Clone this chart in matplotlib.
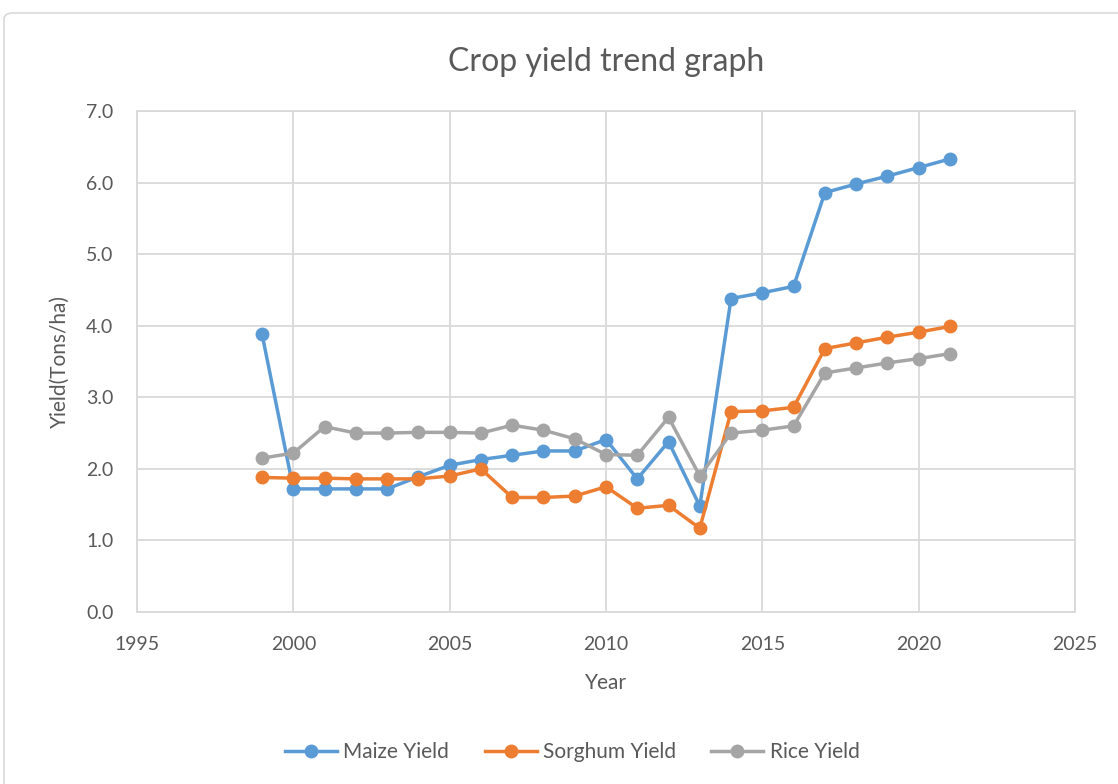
import numpy as np
import matplotlib.pyplot as plt
from matplotlib.patches import FancyBboxPatch

plt.rcParams['font.family'] = ['Lato', 'DejaVu Sans']

years = list(range(1999, 2022))
maize = [3.88, 1.72, 1.72, 1.72, 1.72, 1.89, 2.05, 2.13, 2.19, 2.25, 2.25, 2.41,
         1.86, 2.38, 1.48, 4.38, 4.46, 4.55, 5.86, 5.98, 6.09, 6.21, 6.33]
sorghum = [1.88, 1.87, 1.87, 1.86, 1.86, 1.86, 1.90, 2.00, 1.60, 1.60, 1.62, 1.75,
           1.45, 1.49, 1.17, 2.80, 2.81, 2.86, 3.68, 3.76, 3.84, 3.91, 3.99]
rice = [2.15, 2.22, 2.59, 2.50, 2.50, 2.51, 2.51, 2.50, 2.61, 2.54, 2.42, 2.20,
        2.19, 2.72, 1.90, 2.50, 2.54, 2.60, 3.34, 3.41, 3.48, 3.54, 3.61]

series = [('Maize Yield', maize, '#5B9BD5'),
          ('Sorghum Yield', sorghum, '#ED7D31'),
          ('Rice Yield', rice, '#A5A5A5')]

fig = plt.figure(figsize=(11.18, 7.84), dpi=100)
ax = fig.add_axes([137 / 1118, 1 - 612 / 784, (1075 - 137) / 1118, (612 - 111) / 784])

# chart border like the spreadsheet chart area
border = FancyBboxPatch((4 / 1118, -0.05), 1.1, 1 - 13 / 784 + 0.05,
                        boxstyle='round,pad=0,rounding_size=0.008',
                        transform=fig.transFigure, fill=False,
                        edgecolor='#D9D9D9', linewidth=1.2)
fig.patches.append(border)

for name, vals, col in series:
    ax.plot(years, vals, color=col, linewidth=2.5, marker='o', markersize=9,
            label=name, zorder=3)

ax.set_xlim(1995, 2025)
ax.set_ylim(0, 7)
ax.set_xticks(np.arange(1995, 2026, 5))
ax.set_yticks(np.arange(0, 7.1, 1.0))
ax.set_yticklabels([f'{v:.1f}' for v in np.arange(0, 7.1, 1.0)])
ax.grid(True, color='#D9D9D9', linewidth=1.3)
ax.set_axisbelow(True)
for s in ax.spines.values():
    s.set_color('#D9D9D9')
    s.set_linewidth(1.3)
ax.tick_params(axis='both', length=0, labelsize=14, colors='#595959')
ax.tick_params(axis='y', pad=17)
ax.tick_params(axis='x', pad=17)

ax.set_title('Crop yield trend graph', fontsize=23, color='#595959', pad=29)
ax.set_xlabel('Year', fontsize=15, color='#595959', labelpad=15)
ax.set_ylabel('Yield(Tons/ha)', fontsize=15, color='#595959', labelpad=12)

ax.legend(loc='center', bbox_to_anchor=(0.464, -0.28), ncol=3, frameon=False,
          fontsize=15, labelcolor='#595959', handlelength=2.5, columnspacing=1.7,
          handletextpad=0.3)

fig.savefig('out.png', dpi=100)
